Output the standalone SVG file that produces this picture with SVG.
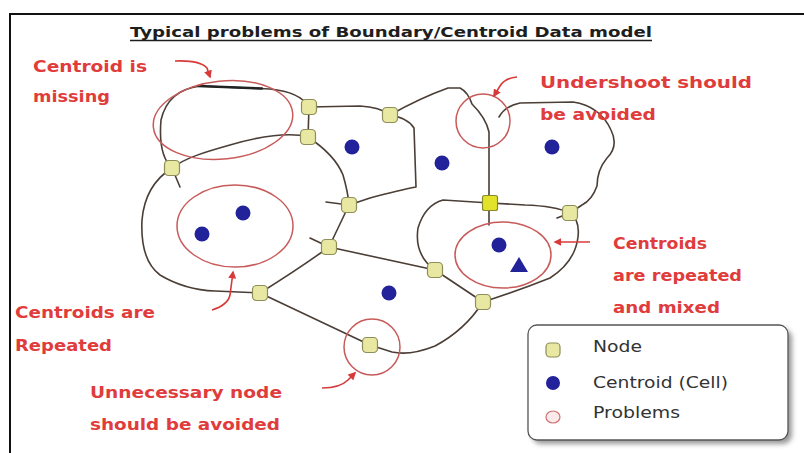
<svg xmlns="http://www.w3.org/2000/svg" width="804" height="453" viewBox="0 0 804 453">
<defs>
<style>
.lbl{font-family:"DejaVu Sans","Liberation Sans",sans-serif;font-weight:bold;font-size:16.5px;fill:#e03c3c}
.ttl{font-family:"DejaVu Sans","Liberation Sans",sans-serif;font-weight:bold;font-size:14px;fill:#1e1e1e}
.leg{font-family:"DejaVu Sans","Liberation Sans",sans-serif;font-size:15px;fill:#333333}
.edge{fill:none;stroke:#4a3e36;stroke-width:1.6;stroke-linejoin:round;stroke-linecap:round}
.prob{fill:none;stroke:#c85a5a;stroke-width:1.5}
.arr{fill:none;stroke:#d83a3a;stroke-width:1.6;marker-end:url(#ah)}
.node{fill:#e8e8a2;stroke:#8e8e5a;stroke-width:1.2}
.cen{fill:#22229a}
</style>
<marker id="ah" viewBox="0 0 10 10" refX="8" refY="5" markerWidth="5" markerHeight="5" orient="auto">
<path d="M0,0 L10,5 L0,10 z" fill="#d83a3a"/>
</marker>
<filter id="sh" x="-10%" y="-10%" width="130%" height="130%">
<feGaussianBlur stdDeviation="2.5"/>
</filter>
</defs>
<rect x="0" y="0" width="804" height="453" fill="#ffffff"/>
<g id="frame">
<path d="M10,453 L10,14 L804,14" fill="none" stroke="#111" stroke-width="2"/>
</g>
<g id="title">
<text class="ttl" x="130" y="37" textLength="522" lengthAdjust="spacingAndGlyphs">Typical problems of Boundary/Centroid Data model</text>
<line x1="130" y1="40.5" x2="652" y2="40.5" stroke="#1e1e1e" stroke-width="1.4"/>
</g>
<g id="connectors">
<path class="edge" d="M309,107 Q300,92 270,89 L200,86 Q168,90 161,120 Q158,155 172,168"/>
<path d="M198,86 L262,88.5" fill="none" stroke="#222" stroke-width="2.4" stroke-linecap="round"/>
<path class="edge" d="M308,137 C290,132 260,136 230,145 C205,152 185,158 172,168"/>
<path class="edge" d="M309,107 L308,137"/>
<path class="edge" d="M309,107 L360,106 Q380,107 390,115"/>
<path class="edge" d="M390,115 Q420,98 448,88 L460,88 Q468,92 472,104 Q486,118 489,132 L489,225"/>
<path class="edge" d="M499,117 Q505,106 520,103 L573,102 Q600,106 611,130 Q619,146 607,158 Q597,170 597,186 Q592,200 582,205 L570,213"/>
<path class="edge" d="M490,203 L525,205 Q555,206 570,213 L557,218"/>
<path class="edge" d="M390,115 Q408,118 414,128 L416,187 Q400,190 370,198 L349,205 L326,202"/>
<path class="edge" d="M308,137 Q335,155 343,175 Q348,192 349,205"/>
<path class="edge" d="M349,205 L329,247 L310,238"/>
<path class="edge" d="M329,247 Q300,268 260,293"/>
<path class="edge" d="M329,247 L435,270"/>
<path class="edge" d="M172,168 Q145,185 142,220 Q140,260 160,275 Q185,290 215,291 L260,293"/>
<path class="edge" d="M172,168 L180,187"/>
<path class="edge" d="M260,293 L370,345"/>
<path class="edge" d="M370,345 L392,352 Q410,356 435,346 Q465,330 483,302"/>
<path class="edge" d="M435,270 L483,302"/>
<path class="edge" d="M483,302 Q520,290 550,278 Q575,262 578,237 Q580,220 570,213"/>
<path class="edge" d="M490,203 L443,200 Q425,205 418,228 Q414,255 435,270"/>
</g>
<g id="problems">
<ellipse class="prob" cx="223" cy="120" rx="70" ry="39" transform="rotate(-6 223 120)"/>
<ellipse class="prob" cx="235" cy="226" rx="58" ry="41"/>
<circle class="prob" cx="483" cy="121" r="27"/>
<ellipse class="prob" cx="503" cy="255" rx="48" ry="33"/>
<circle class="prob" cx="372" cy="347" r="28"/>
</g>
<g id="arrows">
<path class="arr" d="M175,61 Q200,60 207,68 L210,77"/>
<path class="arr" d="M517,77 Q505,78 500,86 L494,96"/>
<path class="arr" d="M212,310 Q228,305 230,295 L233,272"/>
<path class="arr" d="M322,388 Q340,388 348,380 L355,373"/>
<path class="arr" d="M590,242 L555,242"/>
</g>
<g id="centroids">
<circle class="cen" cx="352" cy="147" r="7.5"/>
<circle class="cen" cx="442" cy="163" r="7.5"/>
<circle class="cen" cx="552" cy="147" r="7.5"/>
<circle class="cen" cx="243" cy="213" r="7.5"/>
<circle class="cen" cx="202" cy="234" r="7.5"/>
<circle class="cen" cx="389" cy="293" r="7.5"/>
<circle class="cen" cx="499" cy="245" r="7.5"/>
<path class="cen" d="M519,257 L528,272 L510,272 z"/>
</g>
<g id="nodes">
<g id="n1"><rect class="node" x="301.5" y="99.5" width="15" height="15" rx="4"/></g>
<g id="n2"><rect class="node" x="300.5" y="129.5" width="15" height="15" rx="4"/></g>
<g id="n3"><rect class="node" x="382.5" y="107.5" width="15" height="15" rx="4"/></g>
<g id="n4"><rect class="node" x="164.5" y="160.5" width="15" height="15" rx="4"/></g>
<g id="n5"><rect class="node" x="341.5" y="197.5" width="15" height="15" rx="4"/></g>
<g id="n6"><rect class="node" x="321.5" y="239.5" width="15" height="15" rx="4"/></g>
<g id="n7"><rect class="node" x="427.5" y="262.5" width="15" height="15" rx="4"/></g>
<g id="n8"><rect class="node" x="252.5" y="285.5" width="15" height="15" rx="4"/></g>
<g id="n9"><rect class="node" x="362.5" y="337.5" width="15" height="15" rx="4"/></g>
<g id="n10"><rect class="node" x="475.5" y="294.5" width="15" height="15" rx="4"/></g>
<g id="n11"><rect x="482.5" y="195.5" width="15" height="15" rx="2" fill="#e2e22a" stroke="#8a8a30" stroke-width="1.2"/></g>
<g id="n12"><rect class="node" x="562.5" y="205.5" width="15" height="15" rx="4"/></g>
</g>
<g id="labels">
<text class="lbl" x="33" y="72" textLength="114" lengthAdjust="spacingAndGlyphs">Centroid is</text>
<text class="lbl" x="33" y="102" textLength="77" lengthAdjust="spacingAndGlyphs">missing</text>
<text class="lbl" x="540" y="88" textLength="212" lengthAdjust="spacingAndGlyphs">Undershoot  should</text>
<text class="lbl" x="540" y="120" textLength="116" lengthAdjust="spacingAndGlyphs">be avoided</text>
<text class="lbl" x="15" y="318" textLength="140" lengthAdjust="spacingAndGlyphs">Centroids are</text>
<text class="lbl" x="15" y="351" textLength="97" lengthAdjust="spacingAndGlyphs">Repeated</text>
<text class="lbl" x="90" y="398" textLength="192" lengthAdjust="spacingAndGlyphs">Unnecessary node</text>
<text class="lbl" x="90" y="430" textLength="190" lengthAdjust="spacingAndGlyphs">should be avoided</text>
<text class="lbl" x="613" y="249" textLength="94" lengthAdjust="spacingAndGlyphs">Centroids</text>
<text class="lbl" x="613" y="281" textLength="129" lengthAdjust="spacingAndGlyphs">are repeated</text>
<text class="lbl" x="613" y="313" textLength="107" lengthAdjust="spacingAndGlyphs">and mixed</text>
</g>
<g id="legend">
<rect x="532" y="329" width="260" height="115" rx="9" fill="#999" filter="url(#sh)"/>
<rect x="528" y="325" width="260" height="115" rx="9" fill="#ffffff" stroke="#555" stroke-width="1.3"/>
<rect class="node" x="546" y="343" width="14" height="14" rx="4"/>
<circle class="cen" cx="553" cy="383" r="7"/>
<ellipse cx="553" cy="417" rx="7" ry="6" fill="#fbeaea" stroke="#d07070" stroke-width="1.2"/>
<text class="leg" x="593" y="352" textLength="49" lengthAdjust="spacingAndGlyphs">Node</text>
<text class="leg" x="593" y="388" textLength="135" lengthAdjust="spacingAndGlyphs">Centroid (Cell)</text>
<text class="leg" x="593" y="418" textLength="87" lengthAdjust="spacingAndGlyphs">Problems</text>
</g>
</svg>
